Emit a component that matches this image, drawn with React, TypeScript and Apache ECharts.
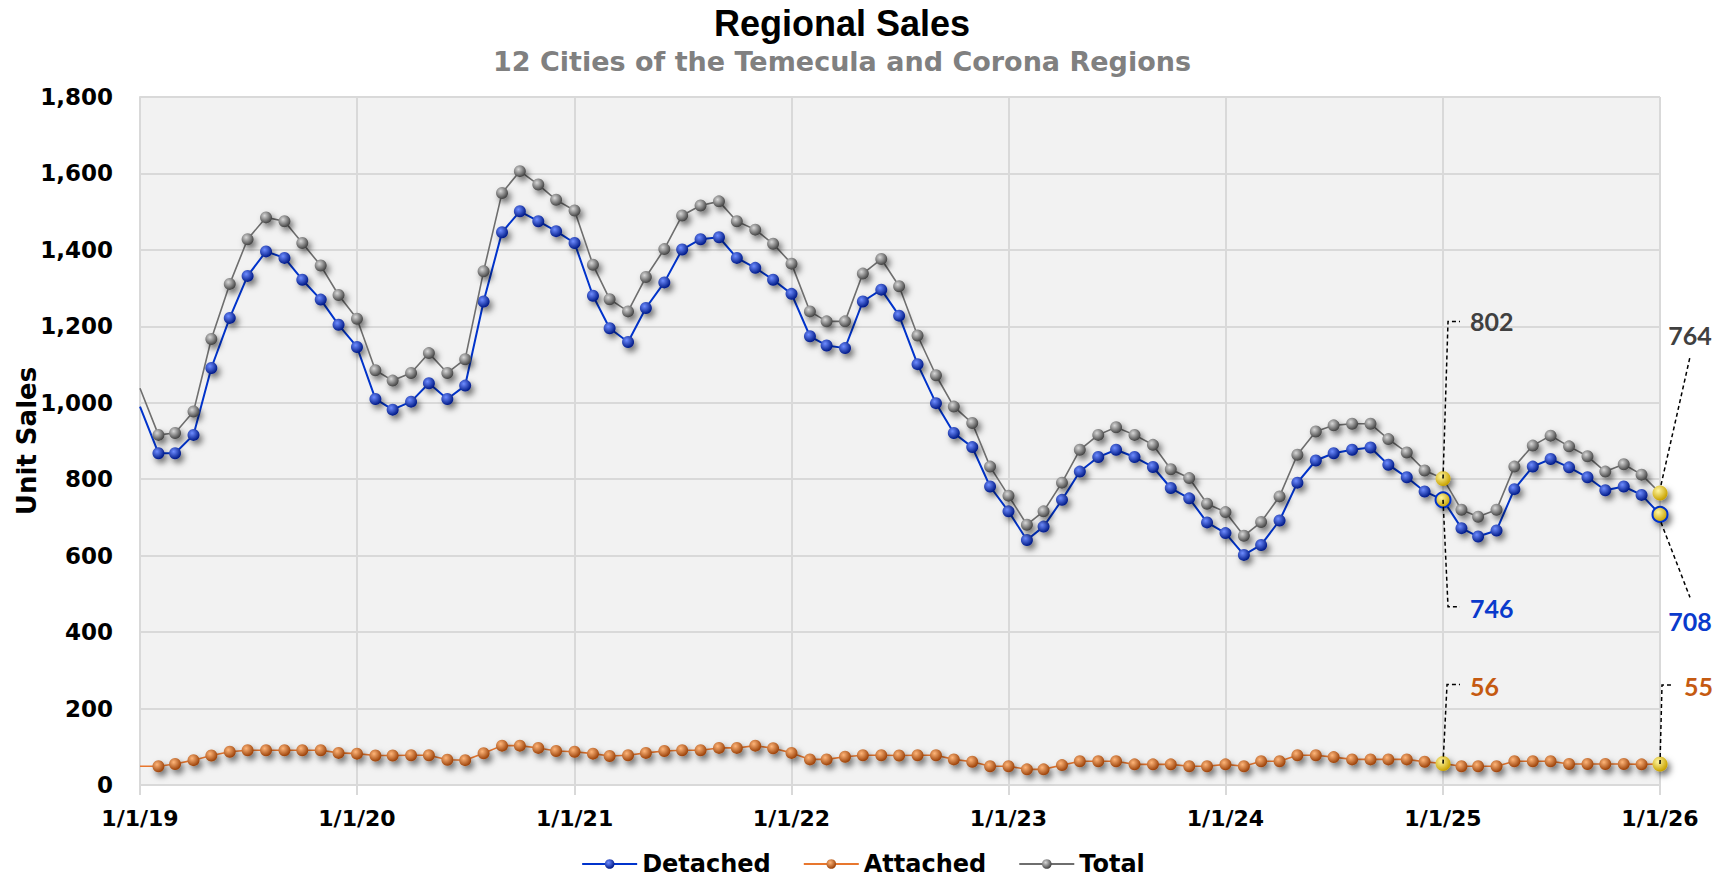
import React, { useEffect, useRef } from 'react';
import * as echarts from 'echarts';

// ---------- DATA (monthly, 1/1/2019 .. 1/1/2026) ----------
const START_YEAR = 2019;
const detached = [
  990, 868, 868, 916, 1091, 1222, 1332, 1396, 1379, 1322, 1270, 1204,
  1146, 1010, 982, 1003, 1051, 1010, 1045, 1265, 1446, 1501, 1475, 1449,
  1418, 1280, 1195, 1159, 1248, 1315, 1401, 1428, 1433, 1379, 1353, 1322,
  1285, 1174, 1150, 1143, 1265, 1296, 1228, 1101, 999, 921, 884, 781,
  716, 641, 676, 746, 820, 858, 877, 858, 832, 777, 750, 687,
  659, 602, 628, 692, 791, 849, 868, 877, 883, 838, 805, 768,
  746, 672, 650, 666, 774, 833, 853, 831, 805, 771, 781, 759,
  708,
];
const attached = [
  49, 49, 55, 65, 77, 87, 91, 91, 91, 91, 91, 84,
  82, 77, 77, 78, 78, 66, 65, 83, 103, 103, 97, 89,
  87, 82, 76, 78, 84, 89, 91, 91, 97, 97, 103, 96,
  84, 67, 67, 74, 78, 78, 77, 78, 78, 67, 61, 49,
  49, 41, 41, 52, 62, 62, 62, 54, 54, 54, 49, 49,
  54, 49, 62, 62, 78, 78, 73, 67, 67, 67, 67, 61,
  56, 49, 49, 49, 62, 62, 62, 55, 55, 55, 55, 54,
  55,
];
const total = [
  1038, 916, 921, 977, 1167, 1311, 1428, 1485, 1475, 1418, 1359, 1282,
  1220, 1085, 1058, 1078, 1130, 1078, 1114, 1344, 1549, 1606, 1571, 1531,
  1503, 1361, 1271, 1239, 1329, 1402, 1490, 1516, 1527, 1475, 1453, 1416,
  1364, 1239, 1213, 1213, 1338, 1376, 1305, 1176, 1072, 990, 947, 833,
  757, 681, 716, 791, 877, 916, 936, 916, 890, 826, 803, 736,
  714, 652, 688, 755, 864, 925, 941, 945, 945, 905, 870, 823,
  802, 720, 702, 720, 833, 888, 914, 886, 860, 820, 839, 812,
  764,
];
const xTickLabels = ['1/1/19', '1/1/20', '1/1/21', '1/1/22', '1/1/23', '1/1/24', '1/1/25', '1/1/26'];
const seriesNames = ['Detached', 'Attached', 'Total'];
const highlightIdx = [72, 84];
const calloutValues = {
  Total: [802, 764],
  Detached: [746, 708],
  Attached: [56, 55],
};

const months = detached.map((_, i) => new Date(START_YEAR, i, 1).getTime());

// ---------- STYLES ----------
const FONT = '"DejaVu Sans", "Liberation Sans", Arial, sans-serif';
const ARIAL = '"Liberation Sans", Arial, sans-serif';
const LABEL_FONT = 'Lato, "Open Sans", sans-serif';
const COLORS = {
  Detached: { line: '#0033cc', hi: '#6f8dff', lo: '#001a88', text: '#0a3acc' },
  Attached: { line: '#e8772e', hi: '#ffb67a', lo: '#9c4209', text: '#c55a11' },
  Total: { line: '#6e6e6e', hi: '#d8d8d8', lo: '#444444', text: '#404040' },
};

const sphere = (hi: string, lo: string) =>
  new echarts.graphic.RadialGradient(0.38, 0.35, 0.65, [
    { offset: 0, color: hi },
    { offset: 1, color: lo },
  ]);

const makeSeries = (name: string, values: number[], lineWidth: number, z: number) => {
  const c = (COLORS as any)[name];
  return {
    name,
    type: 'line',
    z,
    symbol: 'circle',
    symbolSize: 12,
    showAllSymbol: true,
    clip: true,
    lineStyle: { color: c.line, width: lineWidth },
    itemStyle: {
      color: sphere(c.hi, c.lo),
      shadowBlur: 6,
      shadowColor: 'rgba(0,0,0,0.55)',
      shadowOffsetX: 3,
      shadowOffsetY: 4,
    },
    emphasis: { disabled: true },
    data: values.map((v, i) => {
      if (i === 0) return { value: [months[i], v], symbol: 'none' };
      if (highlightIdx.includes(i)) {
        return {
          value: [months[i], v],
          symbolSize: 15,
          itemStyle: {
            color: sphere('#fff6a0', '#c9a200'),
            borderColor: c.line,
            borderWidth: name === 'Detached' ? 2 : 0,
            shadowBlur: 6,
            shadowColor: 'rgba(0,0,0,0.55)',
            shadowOffsetX: 3,
            shadowOffsetY: 4,
          },
        };
      }
      return [months[i], v];
    }),
  };
};

const fmtThousands = (v: number) => String(v).replace(/\B(?=(\d{3})+(?!\d))/g, ',');

export default function App() {
  const ref = useRef<HTMLDivElement>(null);

  useEffect(() => {
    if (!ref.current) return;
    const chart = echarts.init(ref.current, undefined, { renderer: 'svg' });

    chart.setOption({
      animation: false,
      backgroundColor: '#ffffff',
      grid: {
        left: 140, right: 66, top: 97, bottom: 92,
        show: true, backgroundColor: '#f2f2f2', borderWidth: 0,
        containLabel: false,
        outerBoundsMode: 'none',
      },
      legend: {
        data: seriesNames,
        left: 'center',
        top: 847,
        itemWidth: 55,
        itemHeight: 12,
        itemGap: 32,
        textStyle: { fontFamily: FONT, fontWeight: 'bold', fontSize: 24, color: '#000' },
      },
      xAxis: {
        type: 'time',
        min: months[0],
        max: months[months.length - 1],
        splitNumber: 7,
        minInterval: 365 * 24 * 3600 * 1000,
        axisLabel: {
          formatter: (val: number) => {
            const d = new Date(val);
            const k = d.getFullYear() - START_YEAR;
            return xTickLabels[k] ?? '';
          },
          fontFamily: FONT, fontWeight: 'bold', fontSize: 22, color: '#000',
          margin: 22, showMinLabel: true, showMaxLabel: true, hideOverlap: false,
        },
        axisLine: { show: true, lineStyle: { color: '#d9d9d9', width: 2 } },
        axisTick: { show: true, length: 10, lineStyle: { color: '#d9d9d9', width: 2 } },
        splitLine: { show: true, lineStyle: { color: '#d9d9d9', width: 2 } },
      },
      yAxis: {
        type: 'value',
        min: 0, max: 1800, interval: 200,
        name: 'Unit Sales',
        nameLocation: 'middle',
        nameGap: 100,
        nameMoveOverlap: false,
        nameRotate: 90,
        nameTextStyle: { fontFamily: FONT, fontWeight: 'bold', fontSize: 26, color: '#000' },
        axisLabel: {
          formatter: (v: number) => fmtThousands(v),
          fontFamily: FONT, fontWeight: 'bold', fontSize: 23, color: '#000', margin: 27,
        },
        axisLine: { show: true, lineStyle: { color: '#d9d9d9', width: 2 } },
        axisTick: { show: false },
        splitLine: { show: true, lineStyle: { color: '#d9d9d9', width: 2 } },
      },
      series: [
        makeSeries('Detached', detached, 2, 3),
        makeSeries('Attached', attached, 1.6, 2),
        makeSeries('Total', total, 1.6, 4),
      ],
    });

    const P = (i: number, v: number) =>
      chart.convertToPixel({ xAxisIndex: 0, yAxisIndex: 0 }, [months[i], v]) as number[];

    const dash = { stroke: '#000', lineWidth: 1.5, lineDash: [4, 3], fill: null };
    const label = (x: number, y: number, text: string, color: string, align: string) => ({
      type: 'text', x, y, z: 100,
      style: {
        text, fill: color, font: `bold 25px ${LABEL_FONT}`,
        textAlign: align, textVerticalAlign: 'middle',
      },
    });
    const elbow = (pts: number[][]) => ({
      type: 'polyline', z: 99, shape: { points: pts }, style: dash,
    });

    const g: any[] = [
      {
        type: 'text', x: 842, y: 23, z: 100,
        style: {
          text: 'Regional Sales', fill: '#000', font: `bold 36px ${ARIAL}`,
          textAlign: 'center', textVerticalAlign: 'middle',
        },
      },
      {
        type: 'text', x: 842, y: 61, z: 100,
        style: {
          text: '12 Cities of the Temecula and Corona Regions', fill: '#808080',
          font: `bold 27px ${FONT}`, textAlign: 'center', textVerticalAlign: 'middle',
        },
      },
    ];

    // callouts at 1/1/25 (index 72)
    {
      const i = highlightIdx[0];
      const [xt, yt] = P(i, total[i]);
      g.push(elbow([[xt, yt], [xt + 5, yt - 157], [xt + 17, yt - 157]]));
      g.push(label(xt + 27, yt - 157, String(calloutValues.Total[0]), COLORS.Total.text, 'left'));
      const [xd, yd] = P(i, detached[i]);
      g.push(elbow([[xd, yd], [xd + 5, yd + 107], [xd + 17, yd + 107]]));
      g.push(label(xd + 27, yd + 108, String(calloutValues.Detached[0]), COLORS.Detached.text, 'left'));
      const [xa, ya] = P(i, attached[i]);
      g.push(elbow([[xa, ya], [xa + 4, ya - 79], [xa + 17, ya - 79]]));
      g.push(label(xa + 27, ya - 78, String(calloutValues.Attached[0]), COLORS.Attached.text, 'left'));
    }
    // callouts at 1/1/26 (index 84)
    {
      const i = highlightIdx[1];
      const [xt, yt] = P(i, total[i]);
      g.push(elbow([[xt + 1, yt - 8], [xt + 30, yt - 136]]));
      g.push(label(xt + 30, yt - 158, String(calloutValues.Total[1]), COLORS.Total.text, 'center'));
      const [xd, yd] = P(i, detached[i]);
      g.push(elbow([[xd + 1, yd + 8], [xd + 30, yd + 83]]));
      g.push(label(xd + 30, yd + 107, String(calloutValues.Detached[1]), COLORS.Detached.text, 'center'));
      const [xa, ya] = P(i, attached[i]);
      g.push(elbow([[xa, ya], [xa + 2, ya - 79], [xa + 14, ya - 79]]));
      g.push(label(xa + 24, ya - 78, String(calloutValues.Attached[1]), COLORS.Attached.text, 'left'));
    }

    chart.setOption({ graphic: g });

    return () => chart.dispose();
  }, []);

  return (
    <div
      ref={ref}
      style={{ position: 'fixed', left: 0, top: 0, width: 1726, height: 877 }}
    />
  );
}
